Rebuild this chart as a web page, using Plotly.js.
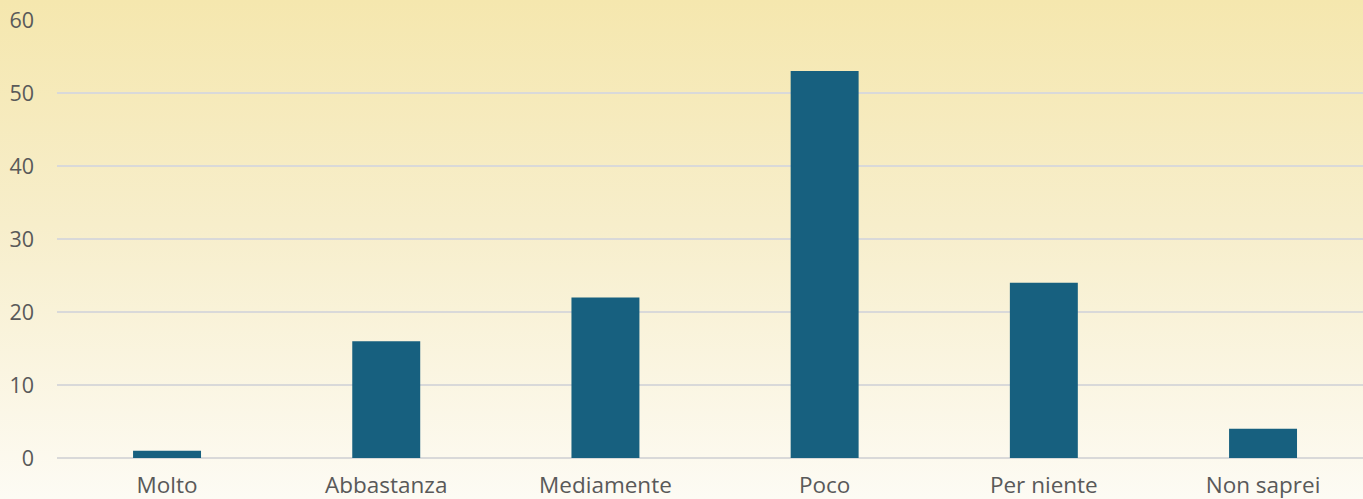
<!DOCTYPE html>
<html><head><meta charset="utf-8">
<script src="https://cdn.plot.ly/plotly-3.0.1.min.js"></script>
<style>
html,body{margin:0;padding:0;width:1363px;height:499px;overflow:hidden;
background:linear-gradient(to bottom,#F5E7AE 0%,#F7EECB 45%,#FDFBF4 100%);}
#chart{width:1363px;height:499px;}
</style></head><body>
<div id="chart"></div>
<script>
const categories = ["Molto","Abbastanza","Mediamente","Poco","Per niente","Non saprei"];
const values = [1,16,22,53,24,4];
const yTicks = [0,10,20,30,40,50,60];

Plotly.newPlot('chart',[{
  type:'bar', x:categories, y:values,
  marker:{color:'#17607F'}, hoverinfo:'none'
}],{
  width:1363,height:499,
  margin:{l:57,r:0,t:20,b:41,pad:0},
  paper_bgcolor:'rgba(0,0,0,0)', plot_bgcolor:'rgba(0,0,0,0)',
  bargap:0.69,
  font:{family:'"Open Sans", sans-serif',size:21,color:'#595959'},
  xaxis:{range:[-0.502,5.456],showgrid:false,showline:false,ticks:'',ticklabelstandoff:11,tickfont:{size:22.5}},
  yaxis:{range:[0,60],tickvals:yTicks,showgrid:true,gridcolor:'#D9D9D9',gridwidth:1.5,
    zeroline:true,zerolinecolor:'#D9D9D9',zerolinewidth:1.5,ticks:'',ticklabelstandoff:22,tickfont:{size:21.5}},
  showlegend:false
},{staticPlot:true});
</script></body></html>
